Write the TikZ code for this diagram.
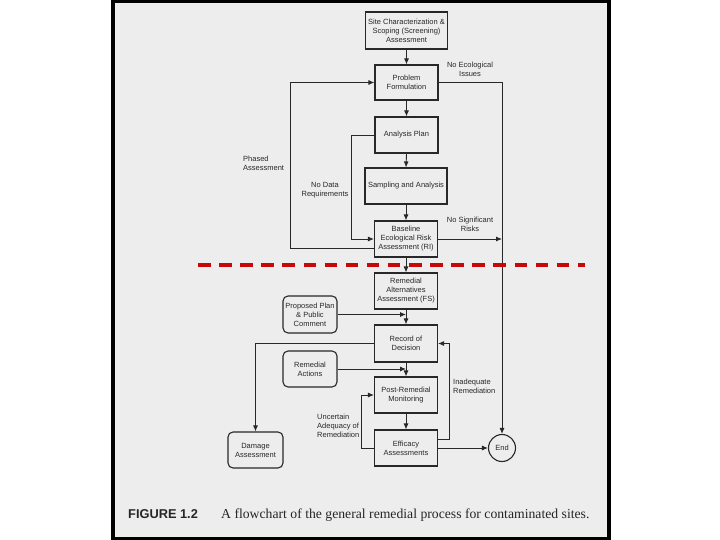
\documentclass[tikz,border=0pt]{standalone}
\usepackage{fontspec}
\setmainfont{Liberation Sans}
\newfontfamily\capserif{Liberation Serif}
\newfontfamily\capsans{Liberation Sans}
\usetikzlibrary{arrows.meta}
\definecolor{pagebg}{RGB}{238,237,238}
\definecolor{ink}{RGB}{40,40,40}
\definecolor{dashred}{RGB}{200,8,8}
\begin{document}
\begin{tikzpicture}[x=1pt,y=-1pt,
  box/.style={draw=ink, line width=1.1pt, fill=pagebg, minimum width=63pt, minimum height=36pt, inner sep=1pt, align=center, font=\fontsize{7.5}{9}\selectfont, text=ink},
  wbox/.style={box, minimum width=82pt},
  rbox/.style={box, rounded corners=5pt, minimum width=54pt},
  lbl/.style={font=\fontsize{7.5}{9}\selectfont, text=ink, inner sep=0pt},
  conn/.style={draw=ink, line width=0.9pt},
  arr/.style={conn, -{Latex[length=6pt,width=5pt]}},
]
\useasboundingbox (0,0) rectangle (720,540);
\fill[white] (0,0) rectangle (720,540);
\fill[black] (111,0) rectangle (611,540);
\fill[pagebg] (115,3) rectangle (607,537);

% nodes
\node[wbox, minimum height=37pt] (site) at (406.5,30.5) {Site Characterization \&\\Scoping (Screening)\\Assessment};
\node[box, minimum height=35pt] (pf) at (406.5,82.5) {Problem\\Formulation};
\node[box] (ap) at (406.5,135) {Analysis Plan};
\node[wbox] (sa) at (406,186) {Sampling and Analysis};
\node[box] (bera) at (406,239) {Baseline\\Ecological Risk\\Assessment (RI)};
\node[box] (raa) at (406,291) {Remedial\\Alternatives\\Assessment (FS)};
\node[box, minimum height=37pt] (rod) at (406,343.5) {Record of\\Decision};
\node[box] (prm) at (406,395) {Post-Remedial\\Monitoring};
\node[box] (eff) at (406,448) {Efficacy\\Assessments};
\node[rbox, minimum height=37pt] (ppc) at (310,314.5) {Proposed Plan\\\& Public\\Comment};
\node[rbox] (ra) at (310,369) {Remedial\\Actions};
\node[rbox, minimum width=55pt] (dam) at (255.5,450) {Damage\\Assessment};
\node[circle, draw=ink, line width=1.1pt, fill=pagebg, minimum size=27pt, inner sep=0pt, font=\fontsize{7.5}{9}\selectfont, text=ink] (end) at (502,448) {End};

% labels
\node[lbl, align=center] (lnei) at (470,69.5) {No Ecological\\Issues};
\node[lbl, align=center] (lnsr) at (470,224.5) {No Significant\\Risks};
\node[lbl, align=left, anchor=west] (lpa) at (243,163.5) {Phased\\Assessment};
\node[lbl, align=center] (lndr) at (325,190.5) {No Data\\Requirements};
\node[lbl, align=left, anchor=west] (lir) at (453,386.5) {Inadequate\\Remediation};
\node[lbl, align=left, anchor=west] (lua) at (317,425.5) {Uncertain\\Adequacy of\\Remediation};

% helper coordinates
\coordinate (phx) at (290,0);
\coordinate (ndx) at (351,0);
\coordinate (inx) at (449,0);
\coordinate (unx) at (361,0);

% main column
\draw[arr] (site.south) -- (pf.north);
\draw[arr] (pf.south) -- (ap.north);
\draw[arr] (ap.south) -- (sa.north);
\draw[arr] (sa.south) -- (bera.north);
\draw[arr] (bera.south) -- (raa.north);
\draw[arr] (raa.south) -- (rod.north);
\draw[arr] (rod.south) -- (prm.north);
\draw[arr] (prm.south) -- (eff.north);

% side paths
\draw[arr] (pf.east) -| (end.north);
\draw[arr] (bera.east) -- (bera.east -| end.north);
\draw[arr] ([yshift=-9pt]bera.west) -| (phx |- pf.west) -- (pf.west);
\draw[arr] (ap.west) -| (ndx |- bera.west) -- (bera.west);
\draw[arr] (ppc.east) -- (ppc.east -| raa.south);
\draw[arr] (ra.east) -- (ra.east -| rod.south);
\draw[arr] (rod.west) -| (dam.north);
\draw[arr] ([yshift=9pt]eff.east) -| (inx |- rod.east) -- (rod.east);
\draw[arr] (eff.west) -| (unx |- prm.west) -- (prm.west);
\draw[arr] (eff.east) -- (end.west);

% red dashed divider
\coordinate (dl) at (198,265);
\coordinate (dr) at (585,265);
\draw[dashred, line width=4.5pt, dash pattern=on 12.5pt off 8.6pt] (dl) -- (dr);

% caption
\node[anchor=base west, inner sep=0pt, font=\capsans\bfseries\fontsize{12.8}{15}\selectfont, text=black!85] (fig) at (128,518) {FIGURE 1.2};
\node[anchor=base west, inner sep=0pt, font=\capserif\fontsize{13.7}{16}\selectfont, text=black!85] (cap) at (221,518) {A flowchart of the general remedial process for contaminated sites.};
\end{tikzpicture}
\end{document}
